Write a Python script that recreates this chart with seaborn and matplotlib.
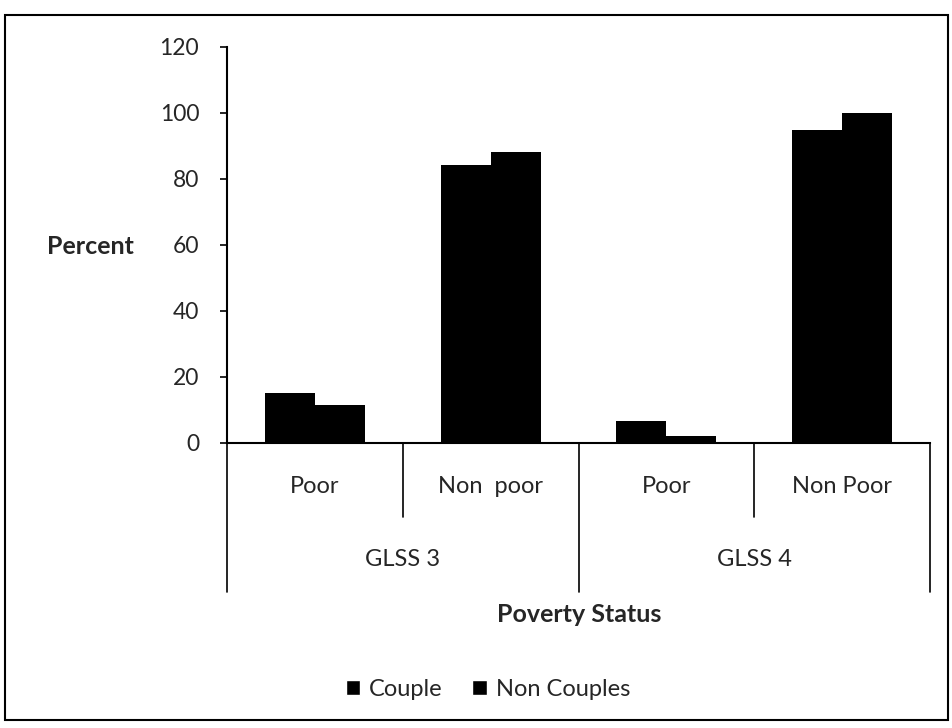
import matplotlib
matplotlib.use("Agg")
import matplotlib.pyplot as plt
import seaborn as sns
import pandas as pd
from matplotlib.patches import Rectangle

surveys = ["GLSS 3", "GLSS 3", "GLSS 4", "GLSS 4"]
statuses = ["Poor", "Non  poor", "Poor", "Non Poor"]
couple = [15.2, 84.2, 6.7, 94.6]
non_couples = [11.5, 88.0, 2.2, 99.9]
series_names = ["Couple", "Non Couples"]
yticks = [0, 20, 40, 60, 80, 100, 120]

sns.set_theme(style="white")
plt.rcParams["font.family"] = ["Lato", "DejaVu Sans"]

keys = [f"{s}|{p}|{i}" for i, (s, p) in enumerate(zip(surveys, statuses))]
df = pd.DataFrame({
    "key": keys * 2,
    "value": couple + non_couples,
    "series": [series_names[0]] * 4 + [series_names[1]] * 4,
})

fig = plt.figure(figsize=(9.52, 7.28), dpi=100)
ax = fig.add_axes([227 / 952, 1 - 443 / 728, (930 - 227) / 952, (443 - 46.5) / 728])

sns.barplot(data=df, x="key", y="value", hue="series", order=keys,
            palette=["black", "black"], width=0.57, gap=0, ax=ax,
            edgecolor="none", linewidth=0, legend=False, saturation=1)

ax.set_xlim(-0.5, 3.5)
ax.set_ylim(0, 120)
ax.set_yticks(yticks)
ax.set_yticklabels([str(t) for t in yticks], fontsize=16.5)
ax.tick_params(axis="y", direction="out", length=5, width=1.2, color="black", left=True, pad=15)
ax.set_xticks([])
ax.set_xlabel("")
ax.set_ylabel("")
for s in ["top", "right"]:
    ax.spines[s].set_visible(False)
for s in ["left", "bottom"]:
    ax.spines[s].set_color("black")
    ax.spines[s].set_linewidth(1.5)

# Multi-level category axis
trans = ax.get_xaxis_transform()
H = 443 - 46.5
inner_drop = -(517 - 443) / H
outer_drop = -(592 - 443) / H
bounds = [-0.5, 0.5, 1.5, 2.5, 3.5]
for i, b in enumerate(bounds):
    depth = outer_drop if i in (0, 2, 4) else inner_drop
    ax.plot([b, b], [0, depth], transform=trans, color="black", lw=1.2, clip_on=False)
lab_y1 = -(487 - 443) / H
lab_y2 = -(560 - 443) / H
for i, st in enumerate(statuses):
    ax.text(i, lab_y1, st, transform=trans, ha="center", va="center", fontsize=17)
groups = []
for i, s in enumerate(surveys):
    if not groups or groups[-1][0] != s:
        groups.append([s, i, i])
    else:
        groups[-1][2] = i
for s, a, b in groups:
    ax.text((a + b) / 2, lab_y2, s, transform=trans, ha="center", va="center", fontsize=17)

fig.text(579 / 952, 1 - 614 / 728, "Poverty Status", ha="center", va="center",
         fontsize=18, fontweight="bold")
fig.text(90 / 952, 1 - 246 / 728, "Percent", ha="center", va="center",
         fontsize=18, fontweight="bold")

handles = [Rectangle((0, 0), 1, 1, facecolor="black") for _ in series_names]
fig.legend(handles, series_names, loc="center", bbox_to_anchor=(488 / 952, 1 - 689 / 728),
           ncol=2, frameon=False, fontsize=17, handlelength=0.6, handleheight=0.6,
           handletextpad=0.38, columnspacing=1.25)

# Outer frame
fig.add_artist(Rectangle((5 / 952, 8 / 728), 943 / 952, 705 / 728, transform=fig.transFigure,
                         fill=False, edgecolor="black", lw=1.5))

fig.savefig("out.png", dpi=100)
